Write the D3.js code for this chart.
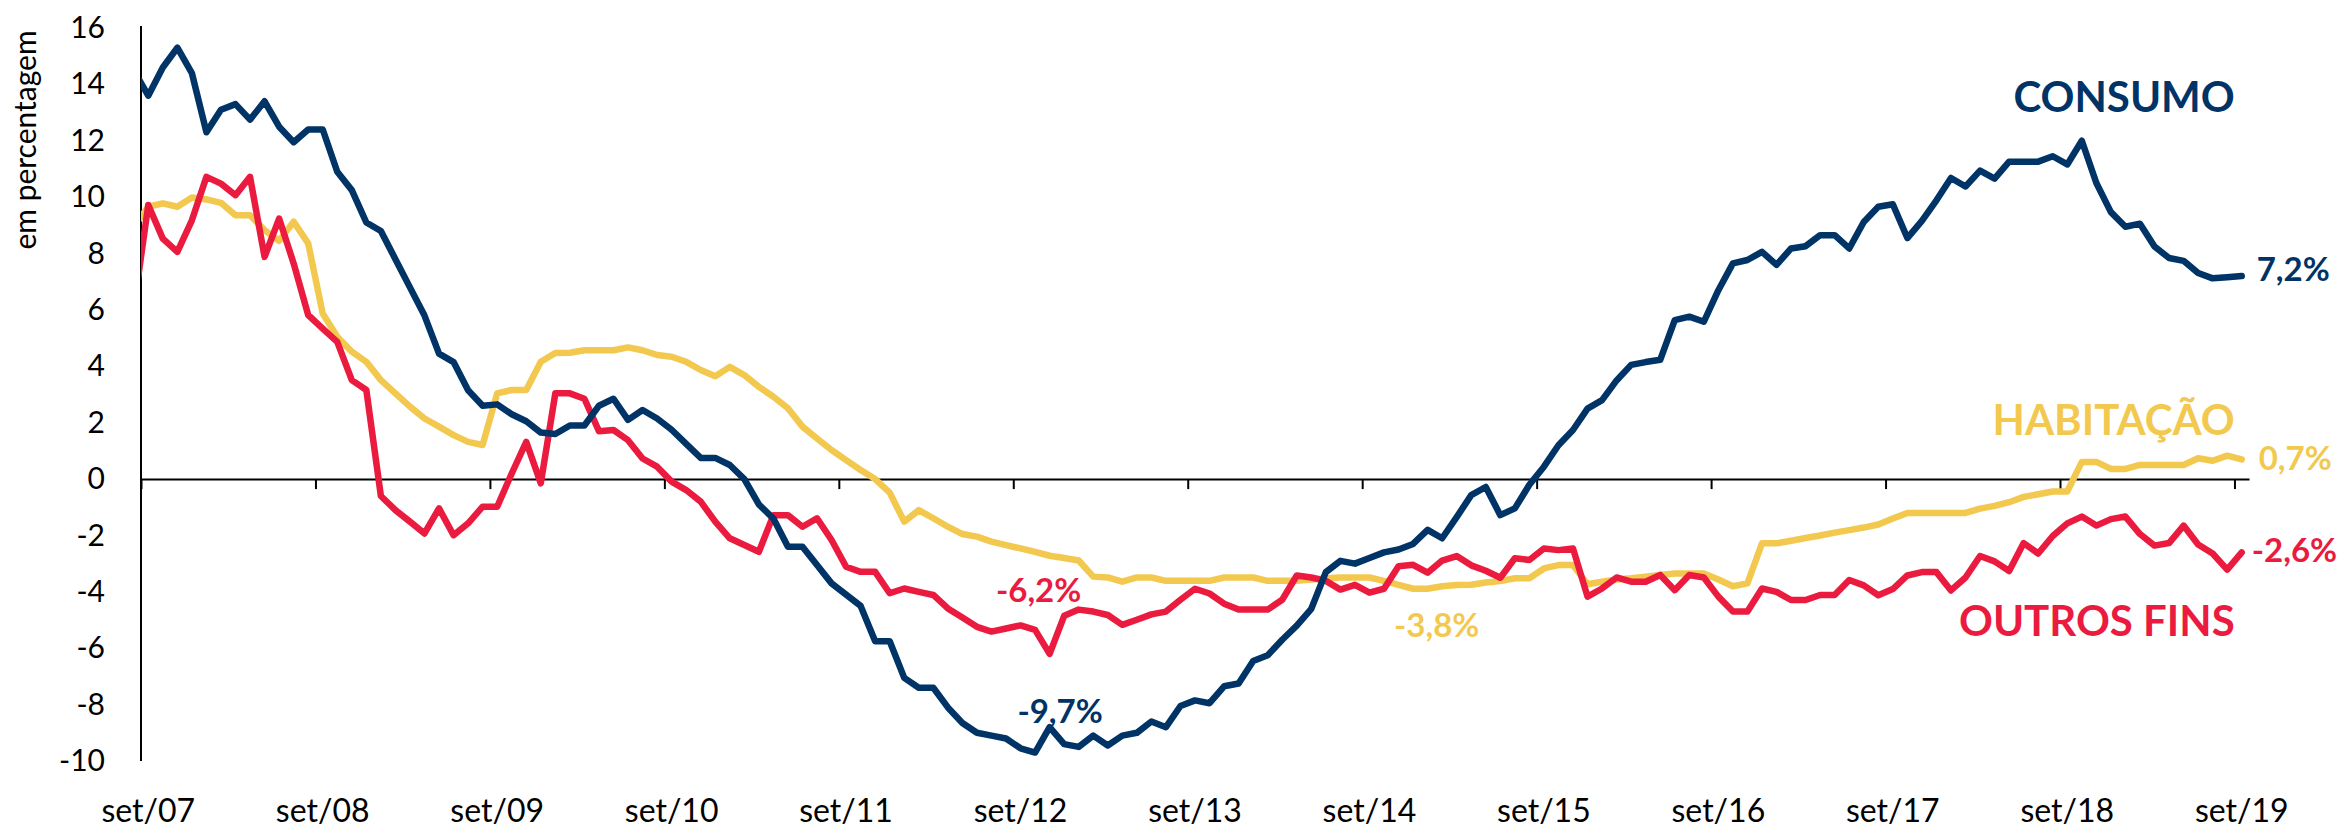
<!DOCTYPE html>
<html>
<head>
<meta charset="utf-8">
<script src="https://cdn.jsdelivr.net/npm/d3@7"></script>
<style>
  body { margin: 0; background: #fff; }
  svg { display: block; font-family: "Lato", "Carlito", sans-serif; }
</style>
</head>
<body>
<svg id="chart" width="2346" height="829"></svg>
<script>
// monthly series, ago/07 .. set/19 (first point sits left of the axis and is clipped)
var monthNames = ["jan", "fev", "mar", "abr", "mai", "jun", "jul", "ago", "set", "out", "nov", "dez"]

var consumo = [
    14.5, 13.6, 14.6, 15.3, 14.4, 12.3, 13.1, 13.3, 12.75, 13.4,
    12.5, 11.95, 12.4, 12.4, 10.9, 10.25, 9.1, 8.8, 7.8, 6.8,
    5.8, 4.45, 4.15, 3.15, 2.6, 2.65, 2.3, 2.05, 1.65, 1.6,
    1.9, 1.9, 2.6, 2.85, 2.1, 2.45, 2.15, 1.75, 1.25, 0.75,
    0.75, 0.5, 0.0, -0.9, -1.4, -2.4, -2.4, -3.05, -3.7, -4.1,
    -4.5, -5.75, -5.75, -7.05, -7.4, -7.4, -8.1, -8.65, -9.0, -9.1,
    -9.2, -9.55, -9.7, -8.8, -9.4, -9.5, -9.1, -9.45, -9.1, -9.0,
    -8.6, -8.8, -8.05, -7.85, -7.95, -7.35, -7.25, -6.45, -6.25, -5.7,
    -5.2, -4.6, -3.3, -2.9, -3.0, -2.8, -2.6, -2.5, -2.3, -1.8,
    -2.1, -1.35, -0.57, -0.28, -1.28, -1.04, -0.2, 0.44, 1.2, 1.74,
    2.5, 2.8, 3.5, 4.05, 4.15, 4.23, 5.64, 5.76, 5.58, 6.7,
    7.65, 7.77, 8.06, 7.6, 8.18, 8.26, 8.65, 8.65, 8.18, 9.12,
    9.66, 9.75, 8.55, 9.16, 9.89, 10.68, 10.38, 10.94, 10.66, 11.26,
    11.26, 11.26, 11.45, 11.16, 12.0, 10.5, 9.47, 8.95, 9.06, 8.25,
    7.84, 7.74, 7.31, 7.12, 7.16, 7.2
]

var habitacao = [
    8.95, 9.66, 9.78, 9.66, 9.99, 9.92, 9.8, 9.36, 9.36, 8.83,
    8.45, 9.13, 8.36, 5.87, 5.05, 4.52, 4.16, 3.51, 3.04, 2.57,
    2.15, 1.86, 1.56, 1.32, 1.21, 3.04, 3.16, 3.16, 4.16, 4.47,
    4.48, 4.57, 4.57, 4.57, 4.67, 4.57, 4.4, 4.34, 4.16, 3.87,
    3.65, 3.98, 3.69, 3.27, 2.92, 2.51, 1.86, 1.44, 1.03, 0.67,
    0.32, 0.0, -0.48, -1.51, -1.1, -1.39, -1.69, -1.95, -2.04, -2.22,
    -2.34, -2.46, -2.58, -2.72, -2.8, -2.89, -3.46, -3.49, -3.64, -3.49,
    -3.49, -3.61, -3.61, -3.61, -3.61, -3.49, -3.49, -3.49, -3.61, -3.61,
    -3.61, -3.56, -3.52, -3.49, -3.49, -3.49, -3.61, -3.75, -3.89, -3.89,
    -3.8, -3.76, -3.75, -3.67, -3.62, -3.52, -3.52, -3.17, -3.05, -3.05,
    -3.73, -3.64, -3.56, -3.52, -3.46, -3.4, -3.35, -3.35, -3.35, -3.56,
    -3.8, -3.7, -2.28, -2.28, -2.19, -2.09, -2.0, -1.9, -1.81, -1.72,
    -1.61, -1.4, -1.2, -1.2, -1.2, -1.2, -1.2, -1.05, -0.95, -0.82,
    -0.63, -0.54, -0.44, -0.44, 0.61, 0.61, 0.36, 0.36, 0.5, 0.5,
    0.5, 0.5, 0.74, 0.65, 0.83, 0.7
]

var outrosFins = [
    6.04, 9.72, 8.53, 8.06, 9.18, 10.72, 10.48, 10.07, 10.72, 7.88,
    9.24, 7.65, 5.82, 5.34, 4.87, 3.51, 3.16, -0.6, -1.1, -1.51,
    -1.93, -1.04, -1.99, -1.57, -0.98, -0.98, 0.2, 1.32, -0.15, 3.04,
    3.04, 2.85, 1.7, 1.74, 1.38, 0.73, 0.44, -0.09, -0.39, -0.8,
    -1.51, -2.1, -2.34, -2.58, -1.28, -1.28, -1.69, -1.39, -2.16, -3.11,
    -3.29, -3.29, -4.05, -3.88, -4.0, -4.11, -4.59, -4.91, -5.24, -5.41,
    -5.3, -5.19, -5.35, -6.2, -4.85, -4.63, -4.7, -4.82, -5.17, -4.99,
    -4.8, -4.7, -4.28, -3.89, -4.06, -4.42, -4.63, -4.63, -4.63, -4.28,
    -3.42, -3.49, -3.61, -3.92, -3.75, -4.03, -3.89, -3.09, -3.04, -3.32,
    -2.89, -2.73, -3.06, -3.25, -3.5, -2.81, -2.87, -2.46, -2.52, -2.46,
    -4.17, -3.88, -3.49, -3.64, -3.64, -3.4, -3.94, -3.4, -3.49, -4.17,
    -4.7, -4.7, -3.88, -4.0, -4.29, -4.29, -4.11, -4.11, -3.58, -3.77,
    -4.12, -3.9, -3.42, -3.3, -3.3, -3.95, -3.49, -2.73, -2.92, -3.26,
    -2.27, -2.64, -2.02, -1.57, -1.33, -1.65, -1.42, -1.33, -1.95, -2.36,
    -2.27, -1.65, -2.32, -2.64, -3.21, -2.6
]

var xTickLabels = ["set/07", "set/08", "set/09", "set/10", "set/11", "set/12", "set/13",
    "set/14", "set/15", "set/16", "set/17", "set/18", "set/19"]
var yTicks = [-10, -8, -6, -4, -2, 0, 2, 4, 6, 8, 10, 12, 14, 16]

// month labels: index 0 = ago/07
var months = consumo.map(function (d, i) {
    var m = (7 + i) % 12
    var yr = 7 + Math.floor((7 + i) / 12)
    return monthNames[m] + "/" + (yr < 10 ? "0" + yr : yr)
})

var colors = { consumo: "#003366", habitacao: "#F2C94E", outros: "#EA1B3E" }

var series = [
    { key: "habitacao", values: habitacao },
    { key: "outros", values: outrosFins },
    { key: "consumo", values: consumo }
]

var svg = d3.select("#chart")
var plotLeft = 141, plotRight = 2249, plotTop = 28, plotBottom = 761

// k = month offset from set/07; categories sit between tick marks
var x = d3.scaleLinear().domain([-0.5, 144.5]).range([plotLeft, plotRight])
var y = d3.scaleLinear().domain([-10, 16]).range([plotBottom, plotTop])

svg.append("defs").append("clipPath").attr("id", "plot")
    .append("rect").attr("x", plotLeft).attr("y", 0)
    .attr("width", plotRight - plotLeft + 10).attr("height", 829)

// y axis (plain hyphen for negatives, as in the source)
var yAxis = svg.append("g")
    .attr("transform", "translate(" + plotLeft + ",0)")
    .call(d3.axisLeft(y).tickValues(yTicks).tickSize(0).tickSizeOuter(0).tickPadding(36)
        .tickFormat(function (d) { return String(d) }))
yAxis.select(".domain").attr("stroke", "#000").attr("stroke-width", 2)
    .attr("d", "M0," + (plotTop - 2) + "V" + plotBottom)
yAxis.selectAll("text").attr("font-size", 30).attr("fill", "#000")
    .attr("font-family", "Lato, sans-serif")

// x axis on zero line
var boundaries = xTickLabels.map(function (d, j) { return j * 12 - 0.5 })
var xAxis = svg.append("g")
    .attr("transform", "translate(0," + y(0) + ")")
    .call(d3.axisBottom(x).tickValues(boundaries).tickSize(10).tickSizeOuter(0).tickFormat(""))
xAxis.select(".domain").attr("stroke", "#000").attr("stroke-width", 2)
xAxis.selectAll(".tick line").attr("stroke", "#000").attr("stroke-width", 2)

svg.append("g").selectAll("text")
    .data(xTickLabels)
    .enter().append("text")
    .attr("x", function (d, j) { return x(j * 12) })
    .attr("y", 822)
    .attr("text-anchor", "middle")
    .attr("font-size", 32)
    .attr("fill", "#000")
    .text(function (d) { return d })

// axis title
svg.append("text")
    .attr("transform", "translate(36,140) rotate(-90)")
    .attr("text-anchor", "middle")
    .attr("font-size", 30)
    .attr("fill", "#000")
    .text("em percentagem")

// lines
var line = d3.line()
    .x(function (d, i) { return x(i - 1) })
    .y(function (d) { return y(d) })

svg.append("g").attr("clip-path", "url(#plot)")
    .selectAll("path")
    .data(series)
    .enter().append("path")
    .attr("d", function (s) { return line(s.values) })
    .attr("fill", "none")
    .attr("stroke", function (s) { return colors[s.key] })
    .attr("stroke-width", 6.5)
    .attr("stroke-linejoin", "round")
    .attr("stroke-linecap", "round")

// value annotations, anchored on data points
var lastK = 144
var annotations = [
    { key: "consumo", k: lastK, text: "7,2%", dx: 15, dy: 5, anchor: "start" },
    { key: "habitacao", k: lastK, text: "0,7%", dx: 17, dy: 11, anchor: "start" },
    { key: "outros", k: lastK, text: "-2,6%", dx: 10, dy: 10, anchor: "start" },
    { key: "outros", k: 62, text: "-6,2%", dx: -11, dy: -52, anchor: "middle" },
    { key: "consumo", k: 61, text: "-9,7%", dx: 25, dy: -30, anchor: "middle" },
    { key: "habitacao", k: 90, text: "-3,8%", dx: -20, dy: 52, anchor: "middle" }
]
var byKey = { consumo: consumo, habitacao: habitacao, outros: outrosFins }

svg.append("g").selectAll("text")
    .data(annotations)
    .enter().append("text")
    .attr("x", function (d) { return x(d.k) + d.dx })
    .attr("y", function (d) { return y(byKey[d.key][d.k + 1]) + d.dy })
    .attr("text-anchor", function (d) { return d.anchor })
    .attr("font-size", 33)
    .attr("font-weight", "bold")
    .attr("fill", function (d) { return colors[d.key] })
    .text(function (d) { return d.text })

// series names
var names = [
    { key: "consumo", text: "CONSUMO", y: 112 },
    { key: "habitacao", text: "HABITAÇÃO", y: 435 },
    { key: "outros", text: "OUTROS FINS", y: 636 }
]
svg.append("g").selectAll("text")
    .data(names)
    .enter().append("text")
    .attr("x", x(lastK) - 7)
    .attr("y", function (d) { return d.y })
    .attr("text-anchor", "end")
    .attr("font-size", 42)
    .attr("font-weight", "bold")
    .attr("fill", function (d) { return colors[d.key] })
    .text(function (d) { return d.text })
</script>
</body>
</html>
